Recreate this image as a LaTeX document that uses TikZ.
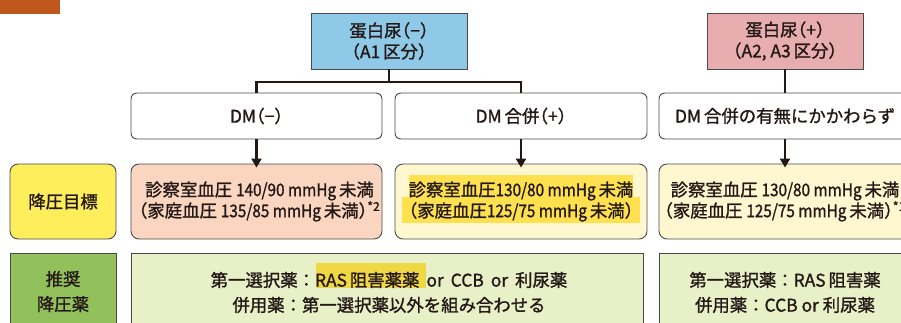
\documentclass[tikz,border=0pt]{standalone}
\usepackage{fontspec}
\setmainfont{Noto Sans CJK JP}[FakeBold=1.2]
\newfontfamily\pfont{Noto Sans CJK JP}[FakeBold=1.2, RawFeature=+halt]
\newfontfamily\nfont{Noto Sans CJK JP}[FakeBold=1.2, FakeStretch=0.88]
\newcommand\LPar{{\pfont （}}
\newcommand\RPar{{\pfont ）}}
\newcommand\nar[1]{{\nfont #1}}
\newcommand\gp{\hspace{7pt}}
\usetikzlibrary{arrows.meta}
\definecolor{topbar}{HTML}{BF561C}
\definecolor{blueb}{HTML}{8FC9E8}
\definecolor{pinkb}{HTML}{E8AEAF}
\definecolor{yelb}{HTML}{FFEE5C}
\definecolor{greenb}{HTML}{92C05B}
\definecolor{peach}{HTML}{FAD6C1}
\definecolor{cream}{HTML}{FFF7CF}
\definecolor{lgreen}{HTML}{E7F0C7}
\definecolor{hl}{HTML}{FFE14F}
\definecolor{hlg}{HTML}{F0D845}
\definecolor{edge}{HTML}{4A4A4A}
\definecolor{ink}{HTML}{231815}
\definecolor{txt}{HTML}{231815}
\tikzset{
  base/.style={draw=edge, line width=0.9pt, text=txt, align=center, inner sep=0pt, font=\fontsize{17.4}{21}\selectfont},
  headbox/.style={base, minimum width=156pt, minimum height=56pt},
  dmbox/.style={base, rounded corners=6pt, fill=white, minimum height=46pt},
  goalbox/.style={base, rounded corners=8pt, minimum height=75pt},
  drugbox/.style={base, minimum height=77pt, font=\fontsize{17.4}{25}\selectfont},
  conn/.style={draw=ink, line width=2.7pt},
  arr/.style={conn, -{Triangle[length=9pt,width=10pt]}}
}
\begin{document}
\begin{tikzpicture}[x=1pt,y=-1pt]
\useasboundingbox (0,0) rectangle (901,322);
\clip (0,0) rectangle (901,322);
\fill[topbar] (0,0) rectangle (60,14);
% headers
\node[headbox, fill=blueb] (neg) at (389,41) {蛋白尿\LPar−\RPar\\\LPar A1\,区分\RPar};
\node[headbox, fill=pinkb] (pos) at (785,41) {蛋白尿\LPar+\RPar\\\LPar A2, A3\,区分\RPar};
% DM boxes
\node[dmbox, minimum width=251pt] (dm1) at (256.5,116) {DM\LPar−\RPar};
\node[dmbox, minimum width=252pt] (dm2) at (521,116) {DM\,合併\LPar+\RPar};
\node[dmbox, minimum width=252pt] (dm3) at (785,116) {DM\,合併の有無にかかわらず};
% goal row
\node[goalbox, fill=yelb, minimum width=106pt] (goal) at (63,201.5) {降圧目標};
\node[goalbox, fill=peach, minimum width=251pt] (g1) at (256.5,201.5) {};
\node[goalbox, fill=cream, minimum width=252pt] (g2) at (521,201.5) {};
\node[goalbox, fill=cream, minimum width=252pt] (g3) at (785,201.5) {};
\fill[hl] (409,175) rectangle (633,197);
\fill[hl] (402,197) rectangle (640,223);
\node[base, draw=none] (g1t) at ([xshift=3pt]g1.center) {診察室血圧 \nar{140/90 mmHg}\,未満\\\LPar 家庭血圧 \nar{135/85 mmHg}\,未満\RPar\textsuperscript{*2}};
\node[base, draw=none] (g2t) at (g2.center) {診察室血圧\nar{130/80 mmHg}\,未満\\\LPar 家庭血圧\nar{125/75 mmHg}\,未満\RPar};
\node[base, draw=none] (g3t) at (g3.center) {診察室血圧 \nar{130/80 mmHg}\,未満\\\LPar 家庭血圧 \nar{125/75 mmHg}\,未満\RPar\textsuperscript{*1}};
% drug row
\node[drugbox, fill=greenb, minimum width=106pt] (drug) at (63,291.5) {推奨\\降圧薬};
\node[drugbox, fill=lgreen, minimum width=512pt] (d1) at (387,291.5) {};
\node[drugbox, fill=lgreen, minimum width=252pt] (d2) at (785,291.5) {};
\fill[hlg] (316,263) rectangle (426,288);
\node[base, draw=none, font=\fontsize{17.4}{25}\selectfont] (d1t) at ([xshift=2pt,yshift=-1pt]d1.center) {第一選択薬：RAS\,阻害薬薬\gp or\gp CCB\gp or\gp 利尿薬\\併用薬：第一選択薬以外を組み合わせる};
\node[base, draw=none, font=\fontsize{17.4}{25}\selectfont] (d2t) at ([yshift=-1pt]d2.center) {第一選択薬：RAS\,阻害薬\\併用薬：CCB or 利尿薬};
% connectors
\coordinate (split) at (389,82);
\draw[conn] (neg.south) -- (split);
\draw[conn] (dm1.north) |- (split) -| (dm2.north);
\draw[conn] (pos.south) -- (dm3.north);
\draw[arr] (dm1.south) -- ([yshift=-4pt]g1.north);
\draw[arr] (dm2.south) -- ([yshift=-4pt]g2.north);
\draw[arr] (dm3.south) -- ([yshift=-4pt]g3.north);
\end{tikzpicture}
\end{document}
